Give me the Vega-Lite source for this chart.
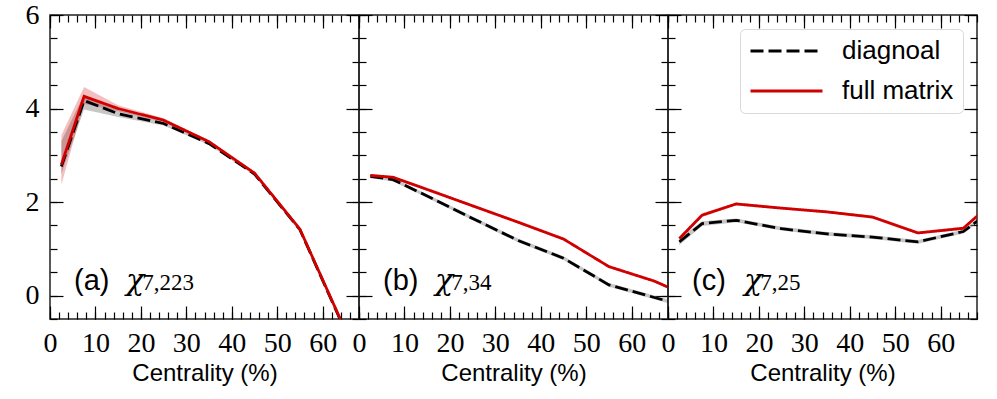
{
"$schema":"https://vega.github.io/schema/vega-lite/v6.json",
"padding":{"left":24,"top":0,"right":0,"bottom":0},
"background":"white",
"bounds":"flush",
"spacing":0,
"datasets":{
"curves":[
{"panel":"a","series":"diagnoal","cent":2.5,"val":2.76,"lo":2.6,"hi":3.3},
{"panel":"a","series":"diagnoal","cent":7.5,"val":4.17,"lo":3.98,"hi":4.3},
{"panel":"a","series":"diagnoal","cent":15,"val":3.89,"lo":3.82,"hi":3.97},
{"panel":"a","series":"diagnoal","cent":25,"val":3.68,"lo":3.64,"hi":3.72},
{"panel":"a","series":"diagnoal","cent":35,"val":3.25,"lo":3.22,"hi":3.28},
{"panel":"a","series":"diagnoal","cent":45,"val":2.6,"lo":2.57,"hi":2.63},
{"panel":"a","series":"diagnoal","cent":55,"val":1.41,"lo":1.38,"hi":1.44},
{"panel":"a","series":"diagnoal","cent":65,"val":-0.76,"lo":-0.8,"hi":-0.72},
{"panel":"a","series":"full matrix","cent":2.5,"val":2.8,"lo":2.37,"hi":3.43},
{"panel":"a","series":"full matrix","cent":7.5,"val":4.26,"lo":4.1,"hi":4.46},
{"panel":"a","series":"full matrix","cent":15,"val":4.0,"lo":3.94,"hi":4.07},
{"panel":"a","series":"full matrix","cent":25,"val":3.75,"lo":3.71,"hi":3.79},
{"panel":"a","series":"full matrix","cent":35,"val":3.29,"lo":3.26,"hi":3.32},
{"panel":"a","series":"full matrix","cent":45,"val":2.62,"lo":2.59,"hi":2.65},
{"panel":"a","series":"full matrix","cent":55,"val":1.42,"lo":1.39,"hi":1.45},
{"panel":"a","series":"full matrix","cent":65,"val":-0.74,"lo":-0.78,"hi":-0.7},
{"panel":"b","series":"diagnoal","cent":2.5,"val":2.55,"lo":2.51,"hi":2.59},
{"panel":"b","series":"diagnoal","cent":7.5,"val":2.48,"lo":2.44,"hi":2.52},
{"panel":"b","series":"diagnoal","cent":15,"val":2.13,"lo":2.09,"hi":2.17},
{"panel":"b","series":"diagnoal","cent":25,"val":1.65,"lo":1.61,"hi":1.69},
{"panel":"b","series":"diagnoal","cent":35,"val":1.18,"lo":1.14,"hi":1.22},
{"panel":"b","series":"diagnoal","cent":45,"val":0.8,"lo":0.76,"hi":0.84},
{"panel":"b","series":"diagnoal","cent":55,"val":0.23,"lo":0.19,"hi":0.27},
{"panel":"b","series":"diagnoal","cent":65,"val":-0.04,"lo":-0.08,"hi":0.0},
{"panel":"b","series":"diagnoal","cent":75,"val":-0.31,"lo":-0.35,"hi":-0.27},
{"panel":"b","series":"full matrix","cent":2.5,"val":2.57,"lo":2.54,"hi":2.6},
{"panel":"b","series":"full matrix","cent":7.5,"val":2.53,"lo":2.5,"hi":2.56},
{"panel":"b","series":"full matrix","cent":15,"val":2.27,"lo":2.24,"hi":2.3},
{"panel":"b","series":"full matrix","cent":25,"val":1.92,"lo":1.89,"hi":1.95},
{"panel":"b","series":"full matrix","cent":35,"val":1.57,"lo":1.54,"hi":1.6},
{"panel":"b","series":"full matrix","cent":45,"val":1.21,"lo":1.18,"hi":1.24},
{"panel":"b","series":"full matrix","cent":55,"val":0.62,"lo":0.59,"hi":0.65},
{"panel":"b","series":"full matrix","cent":65,"val":0.31,"lo":0.28,"hi":0.34},
{"panel":"b","series":"full matrix","cent":75,"val":-0.12,"lo":-0.15,"hi":-0.09},
{"panel":"c","series":"diagnoal","cent":2.5,"val":1.15,"lo":1.08,"hi":1.22},
{"panel":"c","series":"diagnoal","cent":7.5,"val":1.54,"lo":1.49,"hi":1.59},
{"panel":"c","series":"diagnoal","cent":15,"val":1.61,"lo":1.57,"hi":1.65},
{"panel":"c","series":"diagnoal","cent":25,"val":1.43,"lo":1.39,"hi":1.47},
{"panel":"c","series":"diagnoal","cent":35,"val":1.32,"lo":1.28,"hi":1.36},
{"panel":"c","series":"diagnoal","cent":45,"val":1.25,"lo":1.21,"hi":1.29},
{"panel":"c","series":"diagnoal","cent":55,"val":1.15,"lo":1.11,"hi":1.19},
{"panel":"c","series":"diagnoal","cent":65,"val":1.37,"lo":1.33,"hi":1.41},
{"panel":"c","series":"diagnoal","cent":75,"val":2.1,"lo":2.06,"hi":2.14},
{"panel":"c","series":"full matrix","cent":2.5,"val":1.22,"lo":1.17,"hi":1.27},
{"panel":"c","series":"full matrix","cent":7.5,"val":1.72,"lo":1.68,"hi":1.76},
{"panel":"c","series":"full matrix","cent":15,"val":1.96,"lo":1.93,"hi":1.99},
{"panel":"c","series":"full matrix","cent":25,"val":1.87,"lo":1.84,"hi":1.9},
{"panel":"c","series":"full matrix","cent":35,"val":1.79,"lo":1.76,"hi":1.82},
{"panel":"c","series":"full matrix","cent":45,"val":1.68,"lo":1.65,"hi":1.71},
{"panel":"c","series":"full matrix","cent":55,"val":1.34,"lo":1.31,"hi":1.37},
{"panel":"c","series":"full matrix","cent":65,"val":1.44,"lo":1.41,"hi":1.47},
{"panel":"c","series":"full matrix","cent":75,"val":2.3,"lo":2.27,"hi":2.33}
],
"labels":[
{"panel":"a","tag":"(a)","sym":"χ","sub":"7,223"},
{"panel":"b","tag":"(b)","sym":"χ","sub":"7,34"},
{"panel":"c","tag":"(c)","sym":"χ","sub":"7,25"}
]
},
"hconcat":[
{
"width":309,"height":304,
"resolve":{"axis":{"x":"independent","y":"independent"}},
"layer":[
{"data":{"name":"curves"},"transform":[{"filter":"datum.panel==='a' && datum.series==='diagnoal'"}],
"mark":{"type":"area","clip":true,"color":"#808080","opacity":0.45},
"encoding":{
"x":{"field":"cent","type":"quantitative","scale":{"domain":[0,68],"nice":false,"zero":false},"axis":{"orient":"bottom","values":[0,10,20,30,40,50,60],"tickSize":-13,"labelPadding":23,"title":"Centrality (%)","titlePadding":4}},
"y":{"field":"lo","type":"quantitative","scale":{"domain":[-0.5,6],"nice":false,"zero":false},"axis":{"orient":"left","values":[0,2,4,6],"tickSize":-13,"labelPadding":24,"title":null}},
"y2":{"field":"hi"}}},
{"data":{"name":"curves"},"transform":[{"filter":"datum.panel==='a' && datum.series==='full matrix'"}],
"mark":{"type":"area","clip":true,"color":"#d10000","opacity":0.25},
"encoding":{
"x":{"field":"cent","type":"quantitative","scale":{"domain":[0,68],"nice":false,"zero":false},"axis":{"orient":"top","values":[0,10,20,30,40,50,60],"tickSize":-13,"labels":false,"title":null}},
"y":{"field":"lo","type":"quantitative","scale":{"domain":[-0.5,6],"nice":false,"zero":false},"axis":{"orient":"right","values":[0,2,4,6],"tickSize":-13,"labels":false,"title":null}},
"y2":{"field":"hi"}}},
{"data":{"name":"curves"},"transform":[{"filter":"datum.panel==='a'"}],
"mark":{"type":"line","clip":true,"strokeWidth":2.8},
"encoding":{
"x":{"field":"cent","type":"quantitative","scale":{"domain":[0,68],"nice":false,"zero":false},"axis":{"orient":"bottom","values":[0,2,4,6,8,10,12,14,16,18,20,22,24,26,28,30,32,34,36,38,40,42,44,46,48,50,52,54,56,58,60,62,64,66,68],"tickSize":-7,"labels":false,"title":null}},
"y":{"field":"val","type":"quantitative","scale":{"domain":[-0.5,6],"nice":false,"zero":false},"axis":{"orient":"left","values":[-0.5,0,0.5,1,1.5,2,2.5,3,3.5,4,4.5,5,5.5,6],"tickSize":-7,"labels":false,"title":null}},
"color":{"field":"series","type":"nominal","scale":{"domain":["diagnoal","full matrix"],"range":["black","#d10000"]},"legend":null},
"strokeDash":{"field":"series","type":"nominal","scale":{"domain":["diagnoal","full matrix"],"range":[[13,5],[1,0]]},"legend":null}}},
{"data":{"name":"labels"},"transform":[{"filter":"datum.panel==='a'"}],
"mark":{"type":"text","align":"left","baseline":"alphabetic","font":"Liberation Sans","fontSize":29,"color":"black"},
"encoding":{
"x":{"datum":5.3,"type":"quantitative","scale":{"domain":[0,68],"nice":false,"zero":false},"axis":{"orient":"top","values":[0,2,4,6,8,10,12,14,16,18,20,22,24,26,28,30,32,34,36,38,40,42,44,46,48,50,52,54,56,58,60,62,64,66,68],"tickSize":-7,"labels":false,"title":null}},
"y":{"datum":0.13,"type":"quantitative","scale":{"domain":[-0.5,6],"nice":false,"zero":false},"axis":{"orient":"right","values":[-0.5,0,0.5,1,1.5,2,2.5,3,3.5,4,4.5,5,5.5,6],"tickSize":-7,"labels":false,"title":null}},
"text":{"field":"tag"}}},
{"data":{"name":"labels"},"transform":[{"filter":"datum.panel==='a'"}],
"mark":{"type":"text","align":"left","baseline":"alphabetic","font":"DejaVu Serif","fontStyle":"italic","fontSize":30,"color":"black"},
"encoding":{
"x":{"datum":16.7,"type":"quantitative","scale":{"domain":[0,68],"nice":false,"zero":false},"axis":null},
"y":{"datum":0.13,"type":"quantitative","scale":{"domain":[-0.5,6],"nice":false,"zero":false},"axis":null},
"text":{"field":"sym"}}},
{"data":{"name":"labels"},"transform":[{"filter":"datum.panel==='a'"}],
"mark":{"type":"text","align":"left","baseline":"alphabetic","font":"Liberation Serif","fontSize":23,"color":"black"},
"encoding":{
"x":{"datum":20.3,"type":"quantitative","scale":{"domain":[0,68],"nice":false,"zero":false},"axis":null},
"y":{"datum":0.13,"type":"quantitative","scale":{"domain":[-0.5,6],"nice":false,"zero":false},"axis":null},
"text":{"field":"sub"}}}
]
},
{
"width":309,"height":304,
"resolve":{"axis":{"x":"independent","y":"independent"}},
"layer":[
{"data":{"name":"curves"},"transform":[{"filter":"datum.panel==='b' && datum.series==='diagnoal'"}],
"mark":{"type":"area","clip":true,"color":"#808080","opacity":0.45},
"encoding":{
"x":{"field":"cent","type":"quantitative","scale":{"domain":[0,68],"nice":false,"zero":false},"axis":{"orient":"bottom","values":[0,10,20,30,40,50,60],"tickSize":-13,"labelPadding":23,"title":"Centrality (%)","titlePadding":4}},
"y":{"field":"lo","type":"quantitative","scale":{"domain":[-0.5,6],"nice":false,"zero":false},"axis":{"orient":"left","values":[0,2,4,6],"tickSize":-13,"labels":false,"title":null}},
"y2":{"field":"hi"}}},
{"data":{"name":"curves"},"transform":[{"filter":"datum.panel==='b' && datum.series==='full matrix'"}],
"mark":{"type":"area","clip":true,"color":"#d10000","opacity":0.25},
"encoding":{
"x":{"field":"cent","type":"quantitative","scale":{"domain":[0,68],"nice":false,"zero":false},"axis":{"orient":"top","values":[0,10,20,30,40,50,60],"tickSize":-13,"labels":false,"title":null}},
"y":{"field":"lo","type":"quantitative","scale":{"domain":[-0.5,6],"nice":false,"zero":false},"axis":{"orient":"right","values":[0,2,4,6],"tickSize":-13,"labels":false,"title":null}},
"y2":{"field":"hi"}}},
{"data":{"name":"curves"},"transform":[{"filter":"datum.panel==='b'"}],
"mark":{"type":"line","clip":true,"strokeWidth":2.8},
"encoding":{
"x":{"field":"cent","type":"quantitative","scale":{"domain":[0,68],"nice":false,"zero":false},"axis":{"orient":"bottom","values":[0,2,4,6,8,10,12,14,16,18,20,22,24,26,28,30,32,34,36,38,40,42,44,46,48,50,52,54,56,58,60,62,64,66,68],"tickSize":-7,"labels":false,"title":null}},
"y":{"field":"val","type":"quantitative","scale":{"domain":[-0.5,6],"nice":false,"zero":false},"axis":{"orient":"left","values":[-0.5,0,0.5,1,1.5,2,2.5,3,3.5,4,4.5,5,5.5,6],"tickSize":-7,"labels":false,"title":null}},
"color":{"field":"series","type":"nominal","scale":{"domain":["diagnoal","full matrix"],"range":["black","#d10000"]},"legend":null},
"strokeDash":{"field":"series","type":"nominal","scale":{"domain":["diagnoal","full matrix"],"range":[[13,5],[1,0]]},"legend":null}}},
{"data":{"name":"labels"},"transform":[{"filter":"datum.panel==='b'"}],
"mark":{"type":"text","align":"left","baseline":"alphabetic","font":"Liberation Sans","fontSize":29,"color":"black"},
"encoding":{
"x":{"datum":5.3,"type":"quantitative","scale":{"domain":[0,68],"nice":false,"zero":false},"axis":{"orient":"top","values":[0,2,4,6,8,10,12,14,16,18,20,22,24,26,28,30,32,34,36,38,40,42,44,46,48,50,52,54,56,58,60,62,64,66,68],"tickSize":-7,"labels":false,"title":null}},
"y":{"datum":0.13,"type":"quantitative","scale":{"domain":[-0.5,6],"nice":false,"zero":false},"axis":{"orient":"right","values":[-0.5,0,0.5,1,1.5,2,2.5,3,3.5,4,4.5,5,5.5,6],"tickSize":-7,"labels":false,"title":null}},
"text":{"field":"tag"}}},
{"data":{"name":"labels"},"transform":[{"filter":"datum.panel==='b'"}],
"mark":{"type":"text","align":"left","baseline":"alphabetic","font":"DejaVu Serif","fontStyle":"italic","fontSize":30,"color":"black"},
"encoding":{
"x":{"datum":16.7,"type":"quantitative","scale":{"domain":[0,68],"nice":false,"zero":false},"axis":null},
"y":{"datum":0.13,"type":"quantitative","scale":{"domain":[-0.5,6],"nice":false,"zero":false},"axis":null},
"text":{"field":"sym"}}},
{"data":{"name":"labels"},"transform":[{"filter":"datum.panel==='b'"}],
"mark":{"type":"text","align":"left","baseline":"alphabetic","font":"Liberation Serif","fontSize":23,"color":"black"},
"encoding":{
"x":{"datum":20.3,"type":"quantitative","scale":{"domain":[0,68],"nice":false,"zero":false},"axis":null},
"y":{"datum":0.13,"type":"quantitative","scale":{"domain":[-0.5,6],"nice":false,"zero":false},"axis":null},
"text":{"field":"sub"}}}
]
},
{
"width":309,"height":304,
"resolve":{"axis":{"x":"independent","y":"independent"}},
"layer":[
{"data":{"name":"curves"},"transform":[{"filter":"datum.panel==='c' && datum.series==='diagnoal'"}],
"mark":{"type":"area","clip":true,"color":"#808080","opacity":0.45},
"encoding":{
"x":{"field":"cent","type":"quantitative","scale":{"domain":[0,68],"nice":false,"zero":false},"axis":{"orient":"bottom","values":[0,10,20,30,40,50,60],"tickSize":-13,"labelPadding":23,"title":"Centrality (%)","titlePadding":4}},
"y":{"field":"lo","type":"quantitative","scale":{"domain":[-0.5,6],"nice":false,"zero":false},"axis":{"orient":"left","values":[0,2,4,6],"tickSize":-13,"labels":false,"title":null}},
"y2":{"field":"hi"}}},
{"data":{"name":"curves"},"transform":[{"filter":"datum.panel==='c' && datum.series==='full matrix'"}],
"mark":{"type":"area","clip":true,"color":"#d10000","opacity":0.25},
"encoding":{
"x":{"field":"cent","type":"quantitative","scale":{"domain":[0,68],"nice":false,"zero":false},"axis":{"orient":"top","values":[0,10,20,30,40,50,60],"tickSize":-13,"labels":false,"title":null}},
"y":{"field":"lo","type":"quantitative","scale":{"domain":[-0.5,6],"nice":false,"zero":false},"axis":{"orient":"right","values":[0,2,4,6],"tickSize":-13,"labels":false,"title":null}},
"y2":{"field":"hi"}}},
{"data":{"name":"curves"},"transform":[{"filter":"datum.panel==='c'"}],
"mark":{"type":"line","clip":true,"strokeWidth":2.8},
"encoding":{
"x":{"field":"cent","type":"quantitative","scale":{"domain":[0,68],"nice":false,"zero":false},"axis":{"orient":"bottom","values":[0,2,4,6,8,10,12,14,16,18,20,22,24,26,28,30,32,34,36,38,40,42,44,46,48,50,52,54,56,58,60,62,64,66,68],"tickSize":-7,"labels":false,"title":null}},
"y":{"field":"val","type":"quantitative","scale":{"domain":[-0.5,6],"nice":false,"zero":false},"axis":{"orient":"left","values":[-0.5,0,0.5,1,1.5,2,2.5,3,3.5,4,4.5,5,5.5,6],"tickSize":-7,"labels":false,"title":null}},
"color":{"field":"series","type":"nominal","scale":{"domain":["diagnoal","full matrix"],"range":["black","#d10000"]},
"legend":{"title":null,"orient":"top-right","offset":14,"symbolType":"stroke","symbolSize":5184,"symbolStrokeWidth":2.8,"clipHeight":26,"rowPadding":14,"labelFont":"Liberation Sans","labelFontSize":26,"labelOffset":18,"labelColor":"black","padding":9,"strokeColor":"#d9d9d9","fillColor":"white","cornerRadius":5}},
"strokeDash":{"field":"series","type":"nominal","scale":{"domain":["diagnoal","full matrix"],"range":[[13,5],[1,0]]},
"legend":{"title":null,"orient":"top-right","offset":14,"symbolType":"stroke","symbolSize":5184,"symbolStrokeWidth":2.8,"clipHeight":26,"rowPadding":14,"labelFont":"Liberation Sans","labelFontSize":26,"labelOffset":18,"labelColor":"black","padding":9,"strokeColor":"#d9d9d9","fillColor":"white","cornerRadius":5}}}},
{"data":{"name":"labels"},"transform":[{"filter":"datum.panel==='c'"}],
"mark":{"type":"text","align":"left","baseline":"alphabetic","font":"Liberation Sans","fontSize":29,"color":"black"},
"encoding":{
"x":{"datum":5.3,"type":"quantitative","scale":{"domain":[0,68],"nice":false,"zero":false},"axis":{"orient":"top","values":[0,2,4,6,8,10,12,14,16,18,20,22,24,26,28,30,32,34,36,38,40,42,44,46,48,50,52,54,56,58,60,62,64,66,68],"tickSize":-7,"labels":false,"title":null}},
"y":{"datum":0.13,"type":"quantitative","scale":{"domain":[-0.5,6],"nice":false,"zero":false},"axis":{"orient":"right","values":[-0.5,0,0.5,1,1.5,2,2.5,3,3.5,4,4.5,5,5.5,6],"tickSize":-7,"labels":false,"title":null}},
"text":{"field":"tag"}}},
{"data":{"name":"labels"},"transform":[{"filter":"datum.panel==='c'"}],
"mark":{"type":"text","align":"left","baseline":"alphabetic","font":"DejaVu Serif","fontStyle":"italic","fontSize":30,"color":"black"},
"encoding":{
"x":{"datum":16.7,"type":"quantitative","scale":{"domain":[0,68],"nice":false,"zero":false},"axis":null},
"y":{"datum":0.13,"type":"quantitative","scale":{"domain":[-0.5,6],"nice":false,"zero":false},"axis":null},
"text":{"field":"sym"}}},
{"data":{"name":"labels"},"transform":[{"filter":"datum.panel==='c'"}],
"mark":{"type":"text","align":"left","baseline":"alphabetic","font":"Liberation Serif","fontSize":23,"color":"black"},
"encoding":{
"x":{"datum":20.3,"type":"quantitative","scale":{"domain":[0,68],"nice":false,"zero":false},"axis":null},
"y":{"datum":0.13,"type":"quantitative","scale":{"domain":[-0.5,6],"nice":false,"zero":false},"axis":null},
"text":{"field":"sub"}}}
]
}
],
"resolve":{"scale":{"color":"independent","strokeDash":"independent"}},
"config":{
"view":{"stroke":"#222222","strokeWidth":1.5},
"axis":{"grid":false,"domain":false,"labelFlush":false,"labelOverlap":false,"tickColor":"black","tickWidth":1.2,"labelColor":"black","labelFont":"Liberation Serif","labelFontSize":28,"titleFont":"Liberation Sans","titleFontSize":24,"titleFontWeight":"normal","titleColor":"black"}
}
}
